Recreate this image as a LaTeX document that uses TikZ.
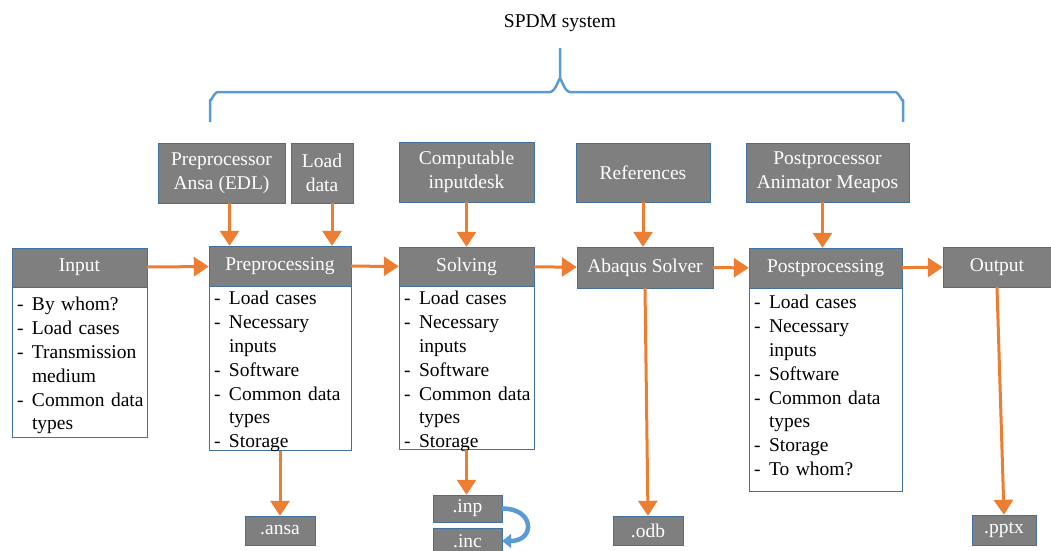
\documentclass[tikz,border=0pt]{standalone}
\usepackage{fontspec}
\setmainfont{Liberation Serif}
\usetikzlibrary{positioning,arrows.meta}
\definecolor{boxgray}{HTML}{7F7F7F}
\definecolor{edgeblue}{HTML}{41719C}
\definecolor{arrorange}{HTML}{ED7D31}
\definecolor{braceblue}{HTML}{5B9BD5}
\newcommand{\li}[1]{\noindent\hangindent=15pt\hangafter=1\makebox[15pt][l]{-}#1\par}

\begin{document}
\begin{tikzpicture}[x=1pt,y=-1pt,
    font=\fontsize{19.5}{23.8}\selectfont,
    hd/.style={%
      rectangle, draw=edgeblue, thin, fill=boxgray, text=white,
      inner sep=2pt, align=center
    },
    lbox/.style={%
      rectangle, draw=edgeblue, thin, fill=white, inner sep=0pt
    },
    ltxt/.style={%
      anchor=north west, inner sep=0pt, text width=200pt, align=left
    },
    oarr/.style={%
      draw=arrorange, line width=3pt, -{Triangle[length=15pt,width=19pt]}
    },
    barr/.style={%
      draw=braceblue, line width=4.5pt, -{Triangle[length=9pt,width=14pt]}
    }
]
    \useasboundingbox (0,0) rectangle (1051,550);

    \node (title) at (560,23) {SPDM system};
    \draw[braceblue, line width=2.5pt, line join=round]
      (210,122) -- (210,100) to[out=-90,in=180] (218,92) -- (550,92)
      to[out=0,in=90] (560,80) -- (560,48)
      (560,80) to[out=90,in=180] (570,92) -- (895,92)
      to[out=0,in=-90] (903,100) -- (903,122);

    % top row
    \node[hd, minimum width=127pt, minimum height=60pt] (preA)  at (221.5,173) {Preprocessor\\Ansa (EDL)};
    \node[hd, minimum width=62pt,  minimum height=60pt] (load)  at (322,173)   {Load\\data};
    \node[hd, minimum width=135pt, minimum height=60pt] (comp)  at (466.5,172) {Computable\\inputdesk};
    \node[hd, minimum width=134pt, minimum height=59pt] (refs)  at (643,172.5) {References};
    \node[hd, minimum width=163pt, minimum height=59pt] (postA) at (827.5,172.5) {Postprocessor\\Animator Meapos};

    % main row
    \node[hd, minimum width=135pt, minimum height=39pt] (input) at (79.5,267.5) {Input};
    \node[hd, minimum width=142pt, minimum height=40pt] (prep)  at (280,266)    {Preprocessing};
    \node[hd, minimum width=135pt, minimum height=39pt] (solv)  at (466.5,266.5) {Solving};
    \node[hd, minimum width=136pt, minimum height=41pt] (abaq)  at (645,267.5)  {Abaqus Solver};
    \node[hd, minimum width=153pt, minimum height=40pt] (post)  at (825.5,268)  {Postprocessing};
    \node[hd, minimum width=108pt, minimum height=40pt] (outp)  at (997,267)    {Output};

    % lists
    \node[lbox, minimum width=135pt, minimum height=150pt, below=0pt of input] (inputL) {};
    \node[lbox, minimum width=142pt, minimum height=164pt, below=0pt of prep]  (prepL)  {};
    \node[lbox, minimum width=135pt, minimum height=163pt, below=0pt of solv]  (solvL)  {};
    \node[lbox, minimum width=153pt, minimum height=203pt, below=0pt of post]  (postL)  {};

    \node[ltxt] (inputT) at ([xshift=5pt,yshift=-10pt]inputL.north west)
      {\li{By whom?}\li{Load cases}\li{Transmission\newline medium}\li{Common data\newline types}};
    \node[ltxt] (prepT) at ([xshift=5pt,yshift=-5pt]prepL.north west)
      {\li{Load cases}\li{Necessary\newline inputs}\li{Software}\li{Common data\newline types}\li{Storage}};
    \node[ltxt] (solvT) at ([xshift=5pt,yshift=-5pt]solvL.north west)
      {\li{Load cases}\li{Necessary\newline inputs}\li{Software}\li{Common data\newline types}\li{Storage}};
    \node[ltxt] (postT) at ([xshift=5pt,yshift=-7pt]postL.north west)
      {\li{Load cases}\li{Necessary\newline inputs}\li{Software}\li{Common data\newline types}\li{Storage}\li{To whom?}};

    % files
    \node[hd, minimum width=70pt, minimum height=29pt] (ansa) at (280,530.5)  {.ansa};
    \node[hd, minimum width=69pt, minimum height=27pt] (inp)  at (467.5,508.5) {.inp};
    \node[hd, minimum width=69pt, minimum height=26pt] (inc)  at (467.5,541)  {.inc};
    \node[hd, minimum width=70pt, minimum height=29pt] (odb)  at (648,530.5)  {.odb};
    \node[hd, minimum width=64pt, minimum height=30pt] (pptx) at (1004,530)   {.pptx};

    % arrows
    \draw[oarr] (input) -- (prep);
    \draw[oarr] (prep) -- (solv);
    \draw[oarr] (solv) -- (abaq);
    \draw[oarr] (abaq) -- (post);
    \draw[oarr] (post) -- (outp);
    \draw[oarr] ([xshift=8pt]preA.south) -- ([xshift=8pt]preA.south |- prep.north);
    \draw[oarr] ([xshift=10pt]load.south) -- ([xshift=10pt]load.south |- prep.north);
    \draw[oarr] (comp.south) -- (comp.south |- solv.north);
    \draw[oarr] (refs.south) -- (refs.south |- abaq.north);
    \draw[oarr] ([xshift=-5pt]postA.south) -- ([xshift=-5pt]postA.south |- post.north);
    \draw[oarr] (prepL.south) -- (ansa.north);
    \draw[oarr] (solvL.south) -- (solvL.south |- inp.north);
    \draw[oarr] (abaq.south) -- (odb.north);
    \draw[oarr] (outp.south) -- (pptx.north);
    \draw[barr] (inp.east) to[out=0,in=0,looseness=2.6] (inc.east);
\end{tikzpicture}
\end{document}
